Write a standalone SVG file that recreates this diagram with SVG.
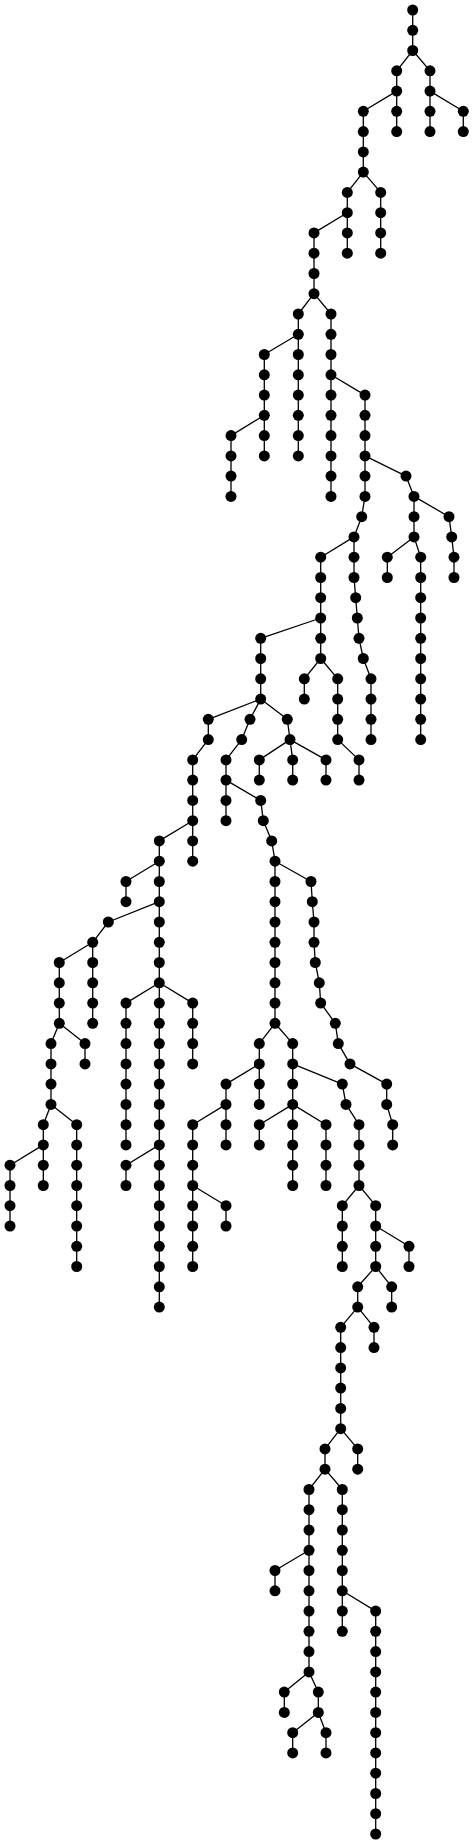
<svg xmlns="http://www.w3.org/2000/svg" width="474" height="1844" viewBox="0 0 474 1844">
<style>
.e{fill:none;stroke:#000;stroke-width:1.3;stroke-linejoin:round}
.node circle{fill:#000}
</style>
<rect width="474" height="1844" fill="#fff"/>
<g id="connectors" class="e">
<path d="M412.7 10 L412.7 30.3 L412.7 50.5 L396.7 70.8 L396.7 91.1 L396.7 111.3 L396.7 131.6"/>
<path d="M412.7 50.5 L430 70.8 L430 91.1 L430 111.3 L430 131.6"/>
<path d="M430 91.1 L463.3 111.3 L463.3 131.6"/>
<path d="M396.7 91.1 L363.3 111.3 L363.3 131.6 L363.3 151.9 L363.3 172.1 L347.3 192.4 L347.3 212.7 L347.3 232.9 L347.3 253.2"/>
<path d="M363.3 172.1 L380.7 192.4 L380.7 212.7 L380.7 232.9 L380.7 253.2"/>
<path d="M347.3 212.7 L314 232.9 L314 253.2 L314 273.5 L314 293.7 L298.3 314 L298.3 334.3 L298.3 354.5 L298.3 374.8 L298.3 395.1 L298.3 415.3 L298.3 435.6 L298.3 455.9"/>
<path d="M298.3 334.3 L264.3 354.5 L264.3 374.8 L264.3 395.1 L264.3 415.3 L264.3 435.6 L264.3 455.9"/>
<path d="M264.3 415.3 L231 435.6 L231 455.9 L231 476.1 L231 496.4"/>
<path d="M314 293.7 L331 314 L331 334.3 L331 354.5 L331 374.8 L331 395.1 L331 415.3 L331 435.6 L331 455.9 L331 476.1 L331 496.4"/>
<path d="M331 374.8 L365 395.1 L365 415.3 L365 435.6 L365 455.9 L365 476.1 L365 496.4 L361.7 516.7 L354 536.9 L354 557.2 L354 577.5 L355.7 597.7 L357.3 618 L359 638.3 L363.3 658.5 L371 678.8 L371 699.1 L371 719.3 L371 739.6"/>
<path d="M365 455.9 L406 476.1 L414 496.4 L414 516.7 L414 536.9 L420.7 557.2 L420.7 577.5 L420.7 597.7 L420.7 618 L420.7 638.3 L420.7 658.5 L420.7 678.8 L420.7 699.1 L420.7 719.3 L420.7 739.6"/>
<path d="M414 496.4 L449 516.7 L451.7 536.9 L454 557.2 L454 577.5"/>
<path d="M414 536.9 L387.3 557.2 L387.3 577.5"/>
<path d="M354 536.9 L320.7 557.2 L320.7 577.5 L320.7 597.7 L320.7 618 L320.7 638.3 L320.7 658.5 L337.7 678.8 L337.7 699.1 L337.7 719.3 L337.7 739.6 L359 759.9 L359 780.1"/>
<path d="M320.7 658.5 L304.3 678.8 L304.3 699.1"/>
<path d="M320.7 618 L260.7 638.3 L260.7 658.5 L260.7 678.8 L260.7 699.1 L287.3 719.3 L290 739.6 L292.7 759.9 L292.7 780.1"/>
<path d="M290 739.6 L259.3 759.9 L259.3 780.1"/>
<path d="M290 739.6 L326 759.9 L326 780.1"/>
<path d="M260.7 699.1 L250 719.3 L241.7 739.6 L226 759.9 L226 780.1 L226 800.4 L226 820.7"/>
<path d="M260.7 699.1 L208.3 719.3 L208.3 739.6 L192.7 759.9 L192.7 780.1 L192.7 800.4 L192.7 820.7 L192.7 840.9 L192.7 861.2"/>
<path d="M226 780.1 L260.7 800.4 L263.3 820.7 L271.7 840.9 L275 861.2 L275 881.5 L275 901.7 L275 922 L275 942.3 L275 962.5 L275 982.8 L275 1003.1 L275 1023.3 L292.7 1043.6 L292.7 1063.9 L292.7 1084.1 L292.7 1104.4 L292.7 1124.7 L292.7 1144.9 L292.7 1165.2 L292.7 1185.5"/>
<path d="M275 861.2 L311 881.5 L312.3 901.7 L314 922 L314 942.3 L315.3 962.5 L319.3 982.8 L320.7 1003.1 L335.3 1023.3 L338.3 1043.6 L350 1063.9 L386.7 1084.1 L386.7 1104.4 L392.7 1124.7 L392.7 1144.9"/>
<path d="M275 1023.3 L259.3 1043.6 L259.3 1063.9 L259.3 1084.1 L259.3 1104.4"/>
<path d="M259.3 1063.9 L226 1084.1 L226 1104.4 L226 1124.7 L226 1144.9"/>
<path d="M226 1104.4 L192.7 1124.7 L192.7 1144.9 L192.7 1165.2 L192.7 1185.5 L192.7 1205.7 L192.7 1226 L192.7 1246.3 L192.7 1266.5"/>
<path d="M192.7 1185.5 L226 1205.7 L226 1226"/>
<path d="M292.7 1063.9 L342.3 1084.1 L346 1104.4 L359 1124.7 L359 1144.9 L359 1165.2 L359 1185.5 L375.7 1205.7 L375.7 1226 L375.7 1246.3 L375.7 1266.5 L357.7 1286.8 L357.7 1307.1 L340.7 1327.3 L340.7 1347.6 L340.7 1367.9 L340.7 1388.1 L340.7 1408.4 L340.7 1428.7 L325 1448.9 L325 1469.2 L309 1489.5 L309 1509.7 L309 1530 L309 1550.3 L309 1570.5 L309 1590.8 L309 1611.1 L309 1631.3 L309 1651.6 L309 1671.9 L318.3 1692.1 L318.3 1712.4 L326 1732.7 L326 1752.9"/>
<path d="M292.7 1104.4 L259.3 1124.7 L259.3 1144.9"/>
<path d="M292.7 1104.4 L326 1124.7 L326 1144.9 L326 1165.2 L326 1185.5"/>
<path d="M359 1185.5 L342.3 1205.7 L342.3 1226 L342.3 1246.3 L342.3 1266.5"/>
<path d="M375.7 1226 L409 1246.3 L409 1266.5"/>
<path d="M375.7 1266.5 L391.7 1286.8 L391.7 1307.1"/>
<path d="M357.7 1307.1 L374 1327.3 L374 1347.6"/>
<path d="M340.7 1428.7 L357.7 1448.9 L357.7 1469.2"/>
<path d="M325 1469.2 L342.3 1489.5 L342.3 1509.7 L342.3 1530 L342.3 1550.3 L342.3 1570.5 L342.3 1590.8 L375.7 1611.1 L375.7 1631.3 L375.7 1651.6 L375.7 1671.9 L375.7 1692.1 L375.7 1712.4 L375.7 1732.7 L375.7 1752.9 L375.7 1773.2 L375.7 1793.5 L375.7 1813.7 L375.7 1834"/>
<path d="M342.3 1590.8 L342.3 1611.1 L342.3 1631.3"/>
<path d="M309 1550.3 L275 1570.5 L275 1590.8"/>
<path d="M309 1671.9 L284.3 1692.1 L284.3 1712.4"/>
<path d="M318.3 1712.4 L292.7 1732.7 L292.7 1752.9"/>
<path d="M192.7 820.7 L159.3 840.9 L159.3 861.2 L159.3 881.5 L159.3 901.7 L159.3 922 L159.3 942.3 L159.3 962.5 L159.3 982.8 L159.3 1003.1 L159.3 1023.3 L159.3 1043.6 L159.3 1063.9 L159.3 1084.1 L159.3 1104.4 L159.3 1124.7 L159.3 1144.9 L159.3 1165.2 L159.3 1185.5 L159.3 1205.7 L159.3 1226 L159.3 1246.3 L159.3 1266.5 L159.3 1286.8 L159.3 1307.1"/>
<path d="M159.3 861.2 L126 881.5 L126 901.7"/>
<path d="M159.3 901.7 L108.3 922 L92.7 942.3 L92.7 962.5 L92.7 982.8 L92.7 1003.1 L92.7 1023.3"/>
<path d="M92.7 942.3 L59.3 962.5 L59.3 982.8 L59.3 1003.1 L59.3 1023.3 L51 1043.6 L51 1063.9 L51 1084.1 L51 1104.4 L43.3 1124.7 L43.3 1144.9 L43.3 1165.2 L43.3 1185.5"/>
<path d="M59.3 1023.3 L85 1043.6 L85 1063.9"/>
<path d="M51 1104.4 L76.7 1124.7 L76.7 1144.9 L76.7 1165.2 L76.7 1185.5 L76.7 1205.7 L76.7 1226 L76.7 1246.3 L76.7 1266.5"/>
<path d="M43.3 1144.9 L10 1165.2 L10 1185.5 L10 1205.7 L10 1226"/>
<path d="M159.3 982.8 L126 1003.1 L126 1023.3 L126 1043.6 L126 1063.9 L126 1084.1 L126 1104.4 L126 1124.7 L126 1144.9"/>
<path d="M159.3 982.8 L192.7 1003.1 L192.7 1023.3 L192.7 1043.6 L192.7 1063.9"/>
<path d="M159.3 1144.9 L126 1165.2 L126 1185.5"/>
</g>
<g id="nodes">
<g id="n1" class="node"><circle cx="412.7" cy="10" r="5.5"/></g>
<g id="n2" class="node"><circle cx="412.7" cy="30.3" r="5.5"/></g>
<g id="n3" class="node"><circle cx="412.7" cy="50.5" r="5.5"/></g>
<g id="n4" class="node"><circle cx="396.7" cy="70.8" r="5.5"/></g>
<g id="n5" class="node"><circle cx="396.7" cy="91.1" r="5.5"/></g>
<g id="n6" class="node"><circle cx="396.7" cy="111.3" r="5.5"/></g>
<g id="n7" class="node"><circle cx="396.7" cy="131.6" r="5.5"/></g>
<g id="n8" class="node"><circle cx="430" cy="70.8" r="5.5"/></g>
<g id="n9" class="node"><circle cx="430" cy="91.1" r="5.5"/></g>
<g id="n10" class="node"><circle cx="430" cy="111.3" r="5.5"/></g>
<g id="n11" class="node"><circle cx="430" cy="131.6" r="5.5"/></g>
<g id="n12" class="node"><circle cx="463.3" cy="111.3" r="5.5"/></g>
<g id="n13" class="node"><circle cx="463.3" cy="131.6" r="5.5"/></g>
<g id="n14" class="node"><circle cx="363.3" cy="111.3" r="5.5"/></g>
<g id="n15" class="node"><circle cx="363.3" cy="131.6" r="5.5"/></g>
<g id="n16" class="node"><circle cx="363.3" cy="151.9" r="5.5"/></g>
<g id="n17" class="node"><circle cx="363.3" cy="172.1" r="5.5"/></g>
<g id="n18" class="node"><circle cx="347.3" cy="192.4" r="5.5"/></g>
<g id="n19" class="node"><circle cx="347.3" cy="212.7" r="5.5"/></g>
<g id="n20" class="node"><circle cx="347.3" cy="232.9" r="5.5"/></g>
<g id="n21" class="node"><circle cx="347.3" cy="253.2" r="5.5"/></g>
<g id="n22" class="node"><circle cx="380.7" cy="192.4" r="5.5"/></g>
<g id="n23" class="node"><circle cx="380.7" cy="212.7" r="5.5"/></g>
<g id="n24" class="node"><circle cx="380.7" cy="232.9" r="5.5"/></g>
<g id="n25" class="node"><circle cx="380.7" cy="253.2" r="5.5"/></g>
<g id="n26" class="node"><circle cx="314" cy="232.9" r="5.5"/></g>
<g id="n27" class="node"><circle cx="314" cy="253.2" r="5.5"/></g>
<g id="n28" class="node"><circle cx="314" cy="273.5" r="5.5"/></g>
<g id="n29" class="node"><circle cx="314" cy="293.7" r="5.5"/></g>
<g id="n30" class="node"><circle cx="298.3" cy="314" r="5.5"/></g>
<g id="n31" class="node"><circle cx="298.3" cy="334.3" r="5.5"/></g>
<g id="n32" class="node"><circle cx="298.3" cy="354.5" r="5.5"/></g>
<g id="n33" class="node"><circle cx="298.3" cy="374.8" r="5.5"/></g>
<g id="n34" class="node"><circle cx="298.3" cy="395.1" r="5.5"/></g>
<g id="n35" class="node"><circle cx="298.3" cy="415.3" r="5.5"/></g>
<g id="n36" class="node"><circle cx="298.3" cy="435.6" r="5.5"/></g>
<g id="n37" class="node"><circle cx="298.3" cy="455.9" r="5.5"/></g>
<g id="n38" class="node"><circle cx="264.3" cy="354.5" r="5.5"/></g>
<g id="n39" class="node"><circle cx="264.3" cy="374.8" r="5.5"/></g>
<g id="n40" class="node"><circle cx="264.3" cy="395.1" r="5.5"/></g>
<g id="n41" class="node"><circle cx="264.3" cy="415.3" r="5.5"/></g>
<g id="n42" class="node"><circle cx="264.3" cy="435.6" r="5.5"/></g>
<g id="n43" class="node"><circle cx="264.3" cy="455.9" r="5.5"/></g>
<g id="n44" class="node"><circle cx="231" cy="435.6" r="5.5"/></g>
<g id="n45" class="node"><circle cx="231" cy="455.9" r="5.5"/></g>
<g id="n46" class="node"><circle cx="231" cy="476.1" r="5.5"/></g>
<g id="n47" class="node"><circle cx="231" cy="496.4" r="5.5"/></g>
<g id="n48" class="node"><circle cx="331" cy="314" r="5.5"/></g>
<g id="n49" class="node"><circle cx="331" cy="334.3" r="5.5"/></g>
<g id="n50" class="node"><circle cx="331" cy="354.5" r="5.5"/></g>
<g id="n51" class="node"><circle cx="331" cy="374.8" r="5.5"/></g>
<g id="n52" class="node"><circle cx="331" cy="395.1" r="5.5"/></g>
<g id="n53" class="node"><circle cx="331" cy="415.3" r="5.5"/></g>
<g id="n54" class="node"><circle cx="331" cy="435.6" r="5.5"/></g>
<g id="n55" class="node"><circle cx="331" cy="455.9" r="5.5"/></g>
<g id="n56" class="node"><circle cx="331" cy="476.1" r="5.5"/></g>
<g id="n57" class="node"><circle cx="331" cy="496.4" r="5.5"/></g>
<g id="n58" class="node"><circle cx="365" cy="395.1" r="5.5"/></g>
<g id="n59" class="node"><circle cx="365" cy="415.3" r="5.5"/></g>
<g id="n60" class="node"><circle cx="365" cy="435.6" r="5.5"/></g>
<g id="n61" class="node"><circle cx="365" cy="455.9" r="5.5"/></g>
<g id="n62" class="node"><circle cx="365" cy="476.1" r="5.5"/></g>
<g id="n63" class="node"><circle cx="365" cy="496.4" r="5.5"/></g>
<g id="n64" class="node"><circle cx="361.7" cy="516.7" r="5.5"/></g>
<g id="n65" class="node"><circle cx="354" cy="536.9" r="5.5"/></g>
<g id="n66" class="node"><circle cx="354" cy="557.2" r="5.5"/></g>
<g id="n67" class="node"><circle cx="354" cy="577.5" r="5.5"/></g>
<g id="n68" class="node"><circle cx="355.7" cy="597.7" r="5.5"/></g>
<g id="n69" class="node"><circle cx="357.3" cy="618" r="5.5"/></g>
<g id="n70" class="node"><circle cx="359" cy="638.3" r="5.5"/></g>
<g id="n71" class="node"><circle cx="363.3" cy="658.5" r="5.5"/></g>
<g id="n72" class="node"><circle cx="371" cy="678.8" r="5.5"/></g>
<g id="n73" class="node"><circle cx="371" cy="699.1" r="5.5"/></g>
<g id="n74" class="node"><circle cx="371" cy="719.3" r="5.5"/></g>
<g id="n75" class="node"><circle cx="371" cy="739.6" r="5.5"/></g>
<g id="n76" class="node"><circle cx="406" cy="476.1" r="5.5"/></g>
<g id="n77" class="node"><circle cx="414" cy="496.4" r="5.5"/></g>
<g id="n78" class="node"><circle cx="414" cy="516.7" r="5.5"/></g>
<g id="n79" class="node"><circle cx="414" cy="536.9" r="5.5"/></g>
<g id="n80" class="node"><circle cx="420.7" cy="557.2" r="5.5"/></g>
<g id="n81" class="node"><circle cx="420.7" cy="577.5" r="5.5"/></g>
<g id="n82" class="node"><circle cx="420.7" cy="597.7" r="5.5"/></g>
<g id="n83" class="node"><circle cx="420.7" cy="618" r="5.5"/></g>
<g id="n84" class="node"><circle cx="420.7" cy="638.3" r="5.5"/></g>
<g id="n85" class="node"><circle cx="420.7" cy="658.5" r="5.5"/></g>
<g id="n86" class="node"><circle cx="420.7" cy="678.8" r="5.5"/></g>
<g id="n87" class="node"><circle cx="420.7" cy="699.1" r="5.5"/></g>
<g id="n88" class="node"><circle cx="420.7" cy="719.3" r="5.5"/></g>
<g id="n89" class="node"><circle cx="420.7" cy="739.6" r="5.5"/></g>
<g id="n90" class="node"><circle cx="449" cy="516.7" r="5.5"/></g>
<g id="n91" class="node"><circle cx="451.7" cy="536.9" r="5.5"/></g>
<g id="n92" class="node"><circle cx="454" cy="557.2" r="5.5"/></g>
<g id="n93" class="node"><circle cx="454" cy="577.5" r="5.5"/></g>
<g id="n94" class="node"><circle cx="387.3" cy="557.2" r="5.5"/></g>
<g id="n95" class="node"><circle cx="387.3" cy="577.5" r="5.5"/></g>
<g id="n96" class="node"><circle cx="320.7" cy="557.2" r="5.5"/></g>
<g id="n97" class="node"><circle cx="320.7" cy="577.5" r="5.5"/></g>
<g id="n98" class="node"><circle cx="320.7" cy="597.7" r="5.5"/></g>
<g id="n99" class="node"><circle cx="320.7" cy="618" r="5.5"/></g>
<g id="n100" class="node"><circle cx="320.7" cy="638.3" r="5.5"/></g>
<g id="n101" class="node"><circle cx="320.7" cy="658.5" r="5.5"/></g>
<g id="n102" class="node"><circle cx="337.7" cy="678.8" r="5.5"/></g>
<g id="n103" class="node"><circle cx="337.7" cy="699.1" r="5.5"/></g>
<g id="n104" class="node"><circle cx="337.7" cy="719.3" r="5.5"/></g>
<g id="n105" class="node"><circle cx="337.7" cy="739.6" r="5.5"/></g>
<g id="n106" class="node"><circle cx="359" cy="759.9" r="5.5"/></g>
<g id="n107" class="node"><circle cx="359" cy="780.1" r="5.5"/></g>
<g id="n108" class="node"><circle cx="304.3" cy="678.8" r="5.5"/></g>
<g id="n109" class="node"><circle cx="304.3" cy="699.1" r="5.5"/></g>
<g id="n110" class="node"><circle cx="260.7" cy="638.3" r="5.5"/></g>
<g id="n111" class="node"><circle cx="260.7" cy="658.5" r="5.5"/></g>
<g id="n112" class="node"><circle cx="260.7" cy="678.8" r="5.5"/></g>
<g id="n113" class="node"><circle cx="260.7" cy="699.1" r="5.5"/></g>
<g id="n114" class="node"><circle cx="287.3" cy="719.3" r="5.5"/></g>
<g id="n115" class="node"><circle cx="290" cy="739.6" r="5.5"/></g>
<g id="n116" class="node"><circle cx="292.7" cy="759.9" r="5.5"/></g>
<g id="n117" class="node"><circle cx="292.7" cy="780.1" r="5.5"/></g>
<g id="n118" class="node"><circle cx="259.3" cy="759.9" r="5.5"/></g>
<g id="n119" class="node"><circle cx="259.3" cy="780.1" r="5.5"/></g>
<g id="n120" class="node"><circle cx="326" cy="759.9" r="5.5"/></g>
<g id="n121" class="node"><circle cx="326" cy="780.1" r="5.5"/></g>
<g id="n122" class="node"><circle cx="250" cy="719.3" r="5.5"/></g>
<g id="n123" class="node"><circle cx="241.7" cy="739.6" r="5.5"/></g>
<g id="n124" class="node"><circle cx="226" cy="759.9" r="5.5"/></g>
<g id="n125" class="node"><circle cx="226" cy="780.1" r="5.5"/></g>
<g id="n126" class="node"><circle cx="226" cy="800.4" r="5.5"/></g>
<g id="n127" class="node"><circle cx="226" cy="820.7" r="5.5"/></g>
<g id="n128" class="node"><circle cx="208.3" cy="719.3" r="5.5"/></g>
<g id="n129" class="node"><circle cx="208.3" cy="739.6" r="5.5"/></g>
<g id="n130" class="node"><circle cx="192.7" cy="759.9" r="5.5"/></g>
<g id="n131" class="node"><circle cx="192.7" cy="780.1" r="5.5"/></g>
<g id="n132" class="node"><circle cx="192.7" cy="800.4" r="5.5"/></g>
<g id="n133" class="node"><circle cx="192.7" cy="820.7" r="5.5"/></g>
<g id="n134" class="node"><circle cx="192.7" cy="840.9" r="5.5"/></g>
<g id="n135" class="node"><circle cx="192.7" cy="861.2" r="5.5"/></g>
<g id="n136" class="node"><circle cx="260.7" cy="800.4" r="5.5"/></g>
<g id="n137" class="node"><circle cx="263.3" cy="820.7" r="5.5"/></g>
<g id="n138" class="node"><circle cx="271.7" cy="840.9" r="5.5"/></g>
<g id="n139" class="node"><circle cx="275" cy="861.2" r="5.5"/></g>
<g id="n140" class="node"><circle cx="275" cy="881.5" r="5.5"/></g>
<g id="n141" class="node"><circle cx="275" cy="901.7" r="5.5"/></g>
<g id="n142" class="node"><circle cx="275" cy="922" r="5.5"/></g>
<g id="n143" class="node"><circle cx="275" cy="942.3" r="5.5"/></g>
<g id="n144" class="node"><circle cx="275" cy="962.5" r="5.5"/></g>
<g id="n145" class="node"><circle cx="275" cy="982.8" r="5.5"/></g>
<g id="n146" class="node"><circle cx="275" cy="1003.1" r="5.5"/></g>
<g id="n147" class="node"><circle cx="275" cy="1023.3" r="5.5"/></g>
<g id="n148" class="node"><circle cx="292.7" cy="1043.6" r="5.5"/></g>
<g id="n149" class="node"><circle cx="292.7" cy="1063.9" r="5.5"/></g>
<g id="n150" class="node"><circle cx="292.7" cy="1084.1" r="5.5"/></g>
<g id="n151" class="node"><circle cx="292.7" cy="1104.4" r="5.5"/></g>
<g id="n152" class="node"><circle cx="292.7" cy="1124.7" r="5.5"/></g>
<g id="n153" class="node"><circle cx="292.7" cy="1144.9" r="5.5"/></g>
<g id="n154" class="node"><circle cx="292.7" cy="1165.2" r="5.5"/></g>
<g id="n155" class="node"><circle cx="292.7" cy="1185.5" r="5.5"/></g>
<g id="n156" class="node"><circle cx="311" cy="881.5" r="5.5"/></g>
<g id="n157" class="node"><circle cx="312.3" cy="901.7" r="5.5"/></g>
<g id="n158" class="node"><circle cx="314" cy="922" r="5.5"/></g>
<g id="n159" class="node"><circle cx="314" cy="942.3" r="5.5"/></g>
<g id="n160" class="node"><circle cx="315.3" cy="962.5" r="5.5"/></g>
<g id="n161" class="node"><circle cx="319.3" cy="982.8" r="5.5"/></g>
<g id="n162" class="node"><circle cx="320.7" cy="1003.1" r="5.5"/></g>
<g id="n163" class="node"><circle cx="335.3" cy="1023.3" r="5.5"/></g>
<g id="n164" class="node"><circle cx="338.3" cy="1043.6" r="5.5"/></g>
<g id="n165" class="node"><circle cx="350" cy="1063.9" r="5.5"/></g>
<g id="n166" class="node"><circle cx="386.7" cy="1084.1" r="5.5"/></g>
<g id="n167" class="node"><circle cx="386.7" cy="1104.4" r="5.5"/></g>
<g id="n168" class="node"><circle cx="392.7" cy="1124.7" r="5.5"/></g>
<g id="n169" class="node"><circle cx="392.7" cy="1144.9" r="5.5"/></g>
<g id="n170" class="node"><circle cx="259.3" cy="1043.6" r="5.5"/></g>
<g id="n171" class="node"><circle cx="259.3" cy="1063.9" r="5.5"/></g>
<g id="n172" class="node"><circle cx="259.3" cy="1084.1" r="5.5"/></g>
<g id="n173" class="node"><circle cx="259.3" cy="1104.4" r="5.5"/></g>
<g id="n174" class="node"><circle cx="226" cy="1084.1" r="5.5"/></g>
<g id="n175" class="node"><circle cx="226" cy="1104.4" r="5.5"/></g>
<g id="n176" class="node"><circle cx="226" cy="1124.7" r="5.5"/></g>
<g id="n177" class="node"><circle cx="226" cy="1144.9" r="5.5"/></g>
<g id="n178" class="node"><circle cx="192.7" cy="1124.7" r="5.5"/></g>
<g id="n179" class="node"><circle cx="192.7" cy="1144.9" r="5.5"/></g>
<g id="n180" class="node"><circle cx="192.7" cy="1165.2" r="5.5"/></g>
<g id="n181" class="node"><circle cx="192.7" cy="1185.5" r="5.5"/></g>
<g id="n182" class="node"><circle cx="192.7" cy="1205.7" r="5.5"/></g>
<g id="n183" class="node"><circle cx="192.7" cy="1226" r="5.5"/></g>
<g id="n184" class="node"><circle cx="192.7" cy="1246.3" r="5.5"/></g>
<g id="n185" class="node"><circle cx="192.7" cy="1266.5" r="5.5"/></g>
<g id="n186" class="node"><circle cx="226" cy="1205.7" r="5.5"/></g>
<g id="n187" class="node"><circle cx="226" cy="1226" r="5.5"/></g>
<g id="n188" class="node"><circle cx="342.3" cy="1084.1" r="5.5"/></g>
<g id="n189" class="node"><circle cx="346" cy="1104.4" r="5.5"/></g>
<g id="n190" class="node"><circle cx="359" cy="1124.7" r="5.5"/></g>
<g id="n191" class="node"><circle cx="359" cy="1144.9" r="5.5"/></g>
<g id="n192" class="node"><circle cx="359" cy="1165.2" r="5.5"/></g>
<g id="n193" class="node"><circle cx="359" cy="1185.5" r="5.5"/></g>
<g id="n194" class="node"><circle cx="375.7" cy="1205.7" r="5.5"/></g>
<g id="n195" class="node"><circle cx="375.7" cy="1226" r="5.5"/></g>
<g id="n196" class="node"><circle cx="375.7" cy="1246.3" r="5.5"/></g>
<g id="n197" class="node"><circle cx="375.7" cy="1266.5" r="5.5"/></g>
<g id="n198" class="node"><circle cx="357.7" cy="1286.8" r="5.5"/></g>
<g id="n199" class="node"><circle cx="357.7" cy="1307.1" r="5.5"/></g>
<g id="n200" class="node"><circle cx="340.7" cy="1327.3" r="5.5"/></g>
<g id="n201" class="node"><circle cx="340.7" cy="1347.6" r="5.5"/></g>
<g id="n202" class="node"><circle cx="340.7" cy="1367.9" r="5.5"/></g>
<g id="n203" class="node"><circle cx="340.7" cy="1388.1" r="5.5"/></g>
<g id="n204" class="node"><circle cx="340.7" cy="1408.4" r="5.5"/></g>
<g id="n205" class="node"><circle cx="340.7" cy="1428.7" r="5.5"/></g>
<g id="n206" class="node"><circle cx="325" cy="1448.9" r="5.5"/></g>
<g id="n207" class="node"><circle cx="325" cy="1469.2" r="5.5"/></g>
<g id="n208" class="node"><circle cx="309" cy="1489.5" r="5.5"/></g>
<g id="n209" class="node"><circle cx="309" cy="1509.7" r="5.5"/></g>
<g id="n210" class="node"><circle cx="309" cy="1530" r="5.5"/></g>
<g id="n211" class="node"><circle cx="309" cy="1550.3" r="5.5"/></g>
<g id="n212" class="node"><circle cx="309" cy="1570.5" r="5.5"/></g>
<g id="n213" class="node"><circle cx="309" cy="1590.8" r="5.5"/></g>
<g id="n214" class="node"><circle cx="309" cy="1611.1" r="5.5"/></g>
<g id="n215" class="node"><circle cx="309" cy="1631.3" r="5.5"/></g>
<g id="n216" class="node"><circle cx="309" cy="1651.6" r="5.5"/></g>
<g id="n217" class="node"><circle cx="309" cy="1671.9" r="5.5"/></g>
<g id="n218" class="node"><circle cx="318.3" cy="1692.1" r="5.5"/></g>
<g id="n219" class="node"><circle cx="318.3" cy="1712.4" r="5.5"/></g>
<g id="n220" class="node"><circle cx="326" cy="1732.7" r="5.5"/></g>
<g id="n221" class="node"><circle cx="326" cy="1752.9" r="5.5"/></g>
<g id="n222" class="node"><circle cx="259.3" cy="1124.7" r="5.5"/></g>
<g id="n223" class="node"><circle cx="259.3" cy="1144.9" r="5.5"/></g>
<g id="n224" class="node"><circle cx="326" cy="1124.7" r="5.5"/></g>
<g id="n225" class="node"><circle cx="326" cy="1144.9" r="5.5"/></g>
<g id="n226" class="node"><circle cx="326" cy="1165.2" r="5.5"/></g>
<g id="n227" class="node"><circle cx="326" cy="1185.5" r="5.5"/></g>
<g id="n228" class="node"><circle cx="342.3" cy="1205.7" r="5.5"/></g>
<g id="n229" class="node"><circle cx="342.3" cy="1226" r="5.5"/></g>
<g id="n230" class="node"><circle cx="342.3" cy="1246.3" r="5.5"/></g>
<g id="n231" class="node"><circle cx="342.3" cy="1266.5" r="5.5"/></g>
<g id="n232" class="node"><circle cx="409" cy="1246.3" r="5.5"/></g>
<g id="n233" class="node"><circle cx="409" cy="1266.5" r="5.5"/></g>
<g id="n234" class="node"><circle cx="391.7" cy="1286.8" r="5.5"/></g>
<g id="n235" class="node"><circle cx="391.7" cy="1307.1" r="5.5"/></g>
<g id="n236" class="node"><circle cx="374" cy="1327.3" r="5.5"/></g>
<g id="n237" class="node"><circle cx="374" cy="1347.6" r="5.5"/></g>
<g id="n238" class="node"><circle cx="357.7" cy="1448.9" r="5.5"/></g>
<g id="n239" class="node"><circle cx="357.7" cy="1469.2" r="5.5"/></g>
<g id="n240" class="node"><circle cx="342.3" cy="1489.5" r="5.5"/></g>
<g id="n241" class="node"><circle cx="342.3" cy="1509.7" r="5.5"/></g>
<g id="n242" class="node"><circle cx="342.3" cy="1530" r="5.5"/></g>
<g id="n243" class="node"><circle cx="342.3" cy="1550.3" r="5.5"/></g>
<g id="n244" class="node"><circle cx="342.3" cy="1570.5" r="5.5"/></g>
<g id="n245" class="node"><circle cx="342.3" cy="1590.8" r="5.5"/></g>
<g id="n246" class="node"><circle cx="375.7" cy="1611.1" r="5.5"/></g>
<g id="n247" class="node"><circle cx="375.7" cy="1631.3" r="5.5"/></g>
<g id="n248" class="node"><circle cx="375.7" cy="1651.6" r="5.5"/></g>
<g id="n249" class="node"><circle cx="375.7" cy="1671.9" r="5.5"/></g>
<g id="n250" class="node"><circle cx="375.7" cy="1692.1" r="5.5"/></g>
<g id="n251" class="node"><circle cx="375.7" cy="1712.4" r="5.5"/></g>
<g id="n252" class="node"><circle cx="375.7" cy="1732.7" r="5.5"/></g>
<g id="n253" class="node"><circle cx="375.7" cy="1752.9" r="5.5"/></g>
<g id="n254" class="node"><circle cx="375.7" cy="1773.2" r="5.5"/></g>
<g id="n255" class="node"><circle cx="375.7" cy="1793.5" r="5.5"/></g>
<g id="n256" class="node"><circle cx="375.7" cy="1813.7" r="5.5"/></g>
<g id="n257" class="node"><circle cx="375.7" cy="1834" r="5.5"/></g>
<g id="n258" class="node"><circle cx="342.3" cy="1611.1" r="5.5"/></g>
<g id="n259" class="node"><circle cx="342.3" cy="1631.3" r="5.5"/></g>
<g id="n260" class="node"><circle cx="275" cy="1570.5" r="5.5"/></g>
<g id="n261" class="node"><circle cx="275" cy="1590.8" r="5.5"/></g>
<g id="n262" class="node"><circle cx="284.3" cy="1692.1" r="5.5"/></g>
<g id="n263" class="node"><circle cx="284.3" cy="1712.4" r="5.5"/></g>
<g id="n264" class="node"><circle cx="292.7" cy="1732.7" r="5.5"/></g>
<g id="n265" class="node"><circle cx="292.7" cy="1752.9" r="5.5"/></g>
<g id="n266" class="node"><circle cx="159.3" cy="840.9" r="5.5"/></g>
<g id="n267" class="node"><circle cx="159.3" cy="861.2" r="5.5"/></g>
<g id="n268" class="node"><circle cx="159.3" cy="881.5" r="5.5"/></g>
<g id="n269" class="node"><circle cx="159.3" cy="901.7" r="5.5"/></g>
<g id="n270" class="node"><circle cx="159.3" cy="922" r="5.5"/></g>
<g id="n271" class="node"><circle cx="159.3" cy="942.3" r="5.5"/></g>
<g id="n272" class="node"><circle cx="159.3" cy="962.5" r="5.5"/></g>
<g id="n273" class="node"><circle cx="159.3" cy="982.8" r="5.5"/></g>
<g id="n274" class="node"><circle cx="159.3" cy="1003.1" r="5.5"/></g>
<g id="n275" class="node"><circle cx="159.3" cy="1023.3" r="5.5"/></g>
<g id="n276" class="node"><circle cx="159.3" cy="1043.6" r="5.5"/></g>
<g id="n277" class="node"><circle cx="159.3" cy="1063.9" r="5.5"/></g>
<g id="n278" class="node"><circle cx="159.3" cy="1084.1" r="5.5"/></g>
<g id="n279" class="node"><circle cx="159.3" cy="1104.4" r="5.5"/></g>
<g id="n280" class="node"><circle cx="159.3" cy="1124.7" r="5.5"/></g>
<g id="n281" class="node"><circle cx="159.3" cy="1144.9" r="5.5"/></g>
<g id="n282" class="node"><circle cx="159.3" cy="1165.2" r="5.5"/></g>
<g id="n283" class="node"><circle cx="159.3" cy="1185.5" r="5.5"/></g>
<g id="n284" class="node"><circle cx="159.3" cy="1205.7" r="5.5"/></g>
<g id="n285" class="node"><circle cx="159.3" cy="1226" r="5.5"/></g>
<g id="n286" class="node"><circle cx="159.3" cy="1246.3" r="5.5"/></g>
<g id="n287" class="node"><circle cx="159.3" cy="1266.5" r="5.5"/></g>
<g id="n288" class="node"><circle cx="159.3" cy="1286.8" r="5.5"/></g>
<g id="n289" class="node"><circle cx="159.3" cy="1307.1" r="5.5"/></g>
<g id="n290" class="node"><circle cx="126" cy="881.5" r="5.5"/></g>
<g id="n291" class="node"><circle cx="126" cy="901.7" r="5.5"/></g>
<g id="n292" class="node"><circle cx="108.3" cy="922" r="5.5"/></g>
<g id="n293" class="node"><circle cx="92.7" cy="942.3" r="5.5"/></g>
<g id="n294" class="node"><circle cx="92.7" cy="962.5" r="5.5"/></g>
<g id="n295" class="node"><circle cx="92.7" cy="982.8" r="5.5"/></g>
<g id="n296" class="node"><circle cx="92.7" cy="1003.1" r="5.5"/></g>
<g id="n297" class="node"><circle cx="92.7" cy="1023.3" r="5.5"/></g>
<g id="n298" class="node"><circle cx="59.3" cy="962.5" r="5.5"/></g>
<g id="n299" class="node"><circle cx="59.3" cy="982.8" r="5.5"/></g>
<g id="n300" class="node"><circle cx="59.3" cy="1003.1" r="5.5"/></g>
<g id="n301" class="node"><circle cx="59.3" cy="1023.3" r="5.5"/></g>
<g id="n302" class="node"><circle cx="51" cy="1043.6" r="5.5"/></g>
<g id="n303" class="node"><circle cx="51" cy="1063.9" r="5.5"/></g>
<g id="n304" class="node"><circle cx="51" cy="1084.1" r="5.5"/></g>
<g id="n305" class="node"><circle cx="51" cy="1104.4" r="5.5"/></g>
<g id="n306" class="node"><circle cx="43.3" cy="1124.7" r="5.5"/></g>
<g id="n307" class="node"><circle cx="43.3" cy="1144.9" r="5.5"/></g>
<g id="n308" class="node"><circle cx="43.3" cy="1165.2" r="5.5"/></g>
<g id="n309" class="node"><circle cx="43.3" cy="1185.5" r="5.5"/></g>
<g id="n310" class="node"><circle cx="85" cy="1043.6" r="5.5"/></g>
<g id="n311" class="node"><circle cx="85" cy="1063.9" r="5.5"/></g>
<g id="n312" class="node"><circle cx="76.7" cy="1124.7" r="5.5"/></g>
<g id="n313" class="node"><circle cx="76.7" cy="1144.9" r="5.5"/></g>
<g id="n314" class="node"><circle cx="76.7" cy="1165.2" r="5.5"/></g>
<g id="n315" class="node"><circle cx="76.7" cy="1185.5" r="5.5"/></g>
<g id="n316" class="node"><circle cx="76.7" cy="1205.7" r="5.5"/></g>
<g id="n317" class="node"><circle cx="76.7" cy="1226" r="5.5"/></g>
<g id="n318" class="node"><circle cx="76.7" cy="1246.3" r="5.5"/></g>
<g id="n319" class="node"><circle cx="76.7" cy="1266.5" r="5.5"/></g>
<g id="n320" class="node"><circle cx="10" cy="1165.2" r="5.5"/></g>
<g id="n321" class="node"><circle cx="10" cy="1185.5" r="5.5"/></g>
<g id="n322" class="node"><circle cx="10" cy="1205.7" r="5.5"/></g>
<g id="n323" class="node"><circle cx="10" cy="1226" r="5.5"/></g>
<g id="n324" class="node"><circle cx="126" cy="1003.1" r="5.5"/></g>
<g id="n325" class="node"><circle cx="126" cy="1023.3" r="5.5"/></g>
<g id="n326" class="node"><circle cx="126" cy="1043.6" r="5.5"/></g>
<g id="n327" class="node"><circle cx="126" cy="1063.9" r="5.5"/></g>
<g id="n328" class="node"><circle cx="126" cy="1084.1" r="5.5"/></g>
<g id="n329" class="node"><circle cx="126" cy="1104.4" r="5.5"/></g>
<g id="n330" class="node"><circle cx="126" cy="1124.7" r="5.5"/></g>
<g id="n331" class="node"><circle cx="126" cy="1144.9" r="5.5"/></g>
<g id="n332" class="node"><circle cx="192.7" cy="1003.1" r="5.5"/></g>
<g id="n333" class="node"><circle cx="192.7" cy="1023.3" r="5.5"/></g>
<g id="n334" class="node"><circle cx="192.7" cy="1043.6" r="5.5"/></g>
<g id="n335" class="node"><circle cx="192.7" cy="1063.9" r="5.5"/></g>
<g id="n336" class="node"><circle cx="126" cy="1165.2" r="5.5"/></g>
<g id="n337" class="node"><circle cx="126" cy="1185.5" r="5.5"/></g>
</g>
</svg>
